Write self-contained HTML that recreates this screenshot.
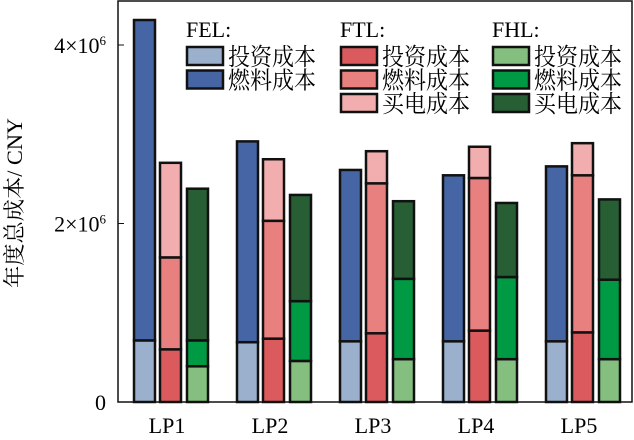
<!DOCTYPE html>
<html><head><meta charset="utf-8"><style>
body{margin:0;background:#fff;}
svg{display:block;font-family:"Liberation Serif","Noto Serif CJK SC",serif;}
</style></head><body>
<svg id="c" width="634" height="440"></svg>
<script>
const categories=["LP1","LP2","LP3","LP4","LP5"];
const felInvest=[0.69,0.67,0.68,0.68,0.68];
const felFuel=[3.59,2.25,1.92,1.86,1.96];
const ftlInvest=[0.59,0.71,0.77,0.80,0.78];
const ftlFuel=[1.03,1.32,1.68,1.71,1.76];
const ftlBuy=[1.06,0.69,0.36,0.35,0.36];
const fhlInvest=[0.40,0.46,0.48,0.48,0.48];
const fhlFuel=[0.29,0.67,0.90,0.92,0.89];
const fhlBuy=[1.70,1.19,0.87,0.83,0.90];
const yTicks=[0,2,4];
const yTickLabels=["0","2×10<tspan dy='-8' font-size='13'>6</tspan>","4×10<tspan dy='-8' font-size='13'>6</tspan>"];

const NS="http://www.w3.org/2000/svg";
const svg=document.getElementById('c');
const X0=118,Y0=402,YS=89.25;
const y=v=>Y0-v*YS;
const groupX=i=>134+i*103;
function mk(t,a,p){const e=document.createElementNS(NS,t);for(const k in a)e.setAttribute(k,a[k]);(p||svg).appendChild(e);return e;}

const series=[
 {off:0,segs:[[felInvest,"#9bb0cc"],[felFuel,"#4665a5"]],n:"fel"},
 {off:26,segs:[[ftlInvest,"#db5a5e"],[ftlFuel,"#e8807f"],[ftlBuy,"#f2aeae"]],n:"ftl"},
 {off:53,segs:[[fhlInvest,"#84bf7f"],[fhlFuel,"#009a44"],[fhlBuy,"#275e34"]],n:"fhl"}
];
const segNames=["invest","fuel","buy"];
categories.forEach((c,i)=>{
 series.forEach(s=>{
  let base=0;
  s.segs.forEach((sg,j)=>{
   const v=sg[0][i];
   const r=mk('rect',{x:groupX(i)+s.off,y:y(base+v),width:21,height:v*YS,fill:sg[1],stroke:"#111",'stroke-width':2.5});
   
   
   base+=v;
  });
 });
 const t=mk('text',{x:groupX(i)+33,y:433,'text-anchor':'middle','font-size':22});
 t.textContent=c;
 
 
});
const f=mk('rect',{x:X0,y:1,width:514,height:Y0-1,fill:"none",stroke:"#111",'stroke-width':1.5});


yTicks.forEach((v,k)=>{
 mk('line',{x1:X0,x2:X0+6,y1:y(v),y2:y(v),stroke:"#111"});
 const t=mk('text',{x:106,y:y(v)+8,'text-anchor':'end','font-size':22});
 t.innerHTML=yTickLabels[k];
 
 
});
const yt=mk('text',{transform:'translate(22,288) rotate(-90)','font-size':22,textLength:170,lengthAdjust:'spacingAndGlyphs'});
yt.textContent="年度总成本/ CNY";


const legends=[
 {x:186,title:"FEL:",items:[["投资成本","#9bb0cc"],["燃料成本","#4665a5"]]},
 {x:340,title:"FTL:",items:[["投资成本","#db5a5e"],["燃料成本","#e8807f"],["买电成本","#f2aeae"]]},
 {x:492,title:"FHL:",items:[["投资成本","#84bf7f"],["燃料成本","#009a44"],["买电成本","#275e34"]]}
];
legends.forEach(L=>{
 const g=mk('g',{});
 
 
 const t=mk('text',{x:L.x,y:37,'font-size':22},g);t.textContent=L.title;
 L.items.forEach((it,j)=>{
  const yy=47+j*23.5;
  mk('rect',{x:L.x+1,y:yy,width:36,height:18,fill:it[1],stroke:"#111",'stroke-width':2.5},g);
  const tt=mk('text',{x:L.x+42,y:yy+18,'font-size':24,textLength:88,lengthAdjust:'spacingAndGlyphs'},g);tt.textContent=it[0];
 });
});
</script>
</body></html>
